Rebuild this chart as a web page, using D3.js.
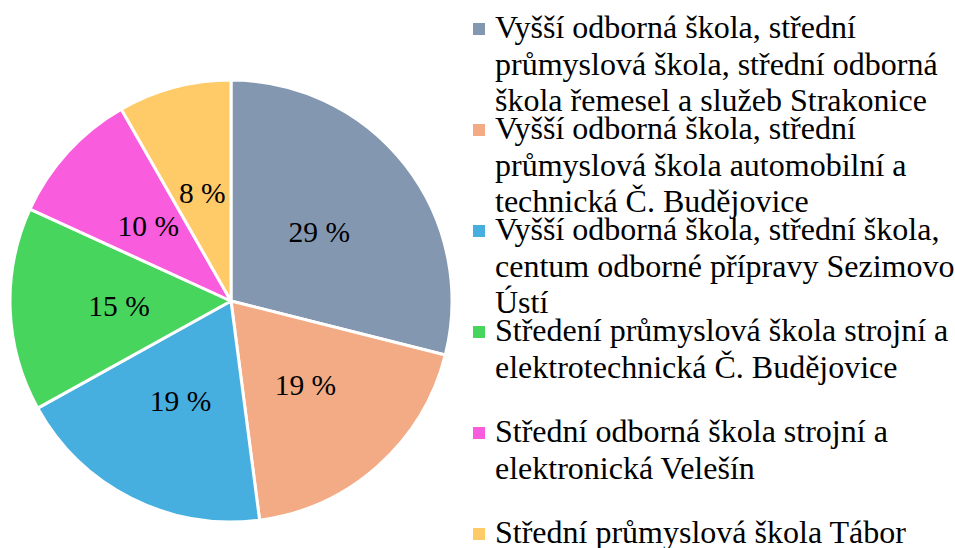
<!DOCTYPE html>
<html>
<head>
<meta charset="utf-8">
<script src="https://cdn.jsdelivr.net/npm/d3@7"></script>
<style>
  body { margin: 0; background: #fff; }
</style>
</head>
<body>
<svg width="955" height="548"></svg>
<script>
// schools (legend order = slice order, clockwise from top)
var schools = [
    ["Vyšší odborná škola, střední", "průmyslová škola, střední odborná", "škola řemesel a služeb Strakonice"],
    ["Vyšší odborná škola, střední", "průmyslová škola automobilní a", "technická Č. Budějovice"],
    ["Vyšší odborná škola, střední škola,", "centum odborné přípravy Sezimovo", "Ústí"],
    ["Středení průmyslová škola strojní a", "elektrotechnická Č. Budějovice"],
    ["Střední odborná škola strojní a", "elektronická Velešín"],
    ["Střední průmyslová škola Tábor"]
];
var counts = [35, 23, 23, 18, 12, 10];
var colors = ["#8497B0", "#F3AB86", "#47AFE0", "#48D55E", "#FA5CDE", "#FFCB69"];

var svg = d3.select("svg");
var serif = "Liberation Serif";

var cx = 231, cy = 301, radius = 221;

var total = d3.sum(counts);
var pie = d3.pie().sort(null).value(d => d);
var arcs = pie(counts);

var arc = d3.arc().innerRadius(0).outerRadius(radius);
var labelArc = d3.arc().innerRadius(224).outerRadius(0);

var g = svg.append("g").attr("transform", "translate(" + cx + "," + cy + ")");

g.selectAll("path")
    .data(arcs)
    .enter().append("path")
    .attr("d", arc)
    .attr("fill", (d, i) => colors[i])
    .attr("stroke", "#fff")
    .attr("stroke-width", 3)
    .attr("stroke-linejoin", "round");

g.selectAll("text.lbl")
    .data(arcs)
    .enter().append("text")
    .attr("class", "lbl")
    .attr("transform", d => "translate(" + labelArc.centroid(d) + ")")
    .attr("text-anchor", "middle")
    .attr("dy", "0.35em")
    .attr("font-family", serif)
    .attr("font-size", 29.5)
    .attr("fill", "#000")
    .text(d => Math.round(d.data / total * 100) + " %");

// legend
var legX = 473, legY = 38, itemStep = 101, lineH = 36.5;

var leg = svg.append("g");
var items = leg.selectAll("g")
    .data(schools)
    .enter().append("g")
    .attr("transform", (d, i) => "translate(" + legX + "," + (legY + i * itemStep) + ")");

items.append("rect")
    .attr("x", 0)
    .attr("y", -15)
    .attr("width", 12)
    .attr("height", 12)
    .attr("fill", (d, i) => colors[i]);

items.append("text")
    .attr("font-family", serif)
    .attr("font-size", 32)
    .attr("fill", "#000")
    .selectAll("tspan")
    .data(d => d)
    .enter().append("tspan")
    .attr("x", 22)
    .attr("y", (d, i) => i * lineH)
    .text(d => d);
</script>
</body>
</html>
